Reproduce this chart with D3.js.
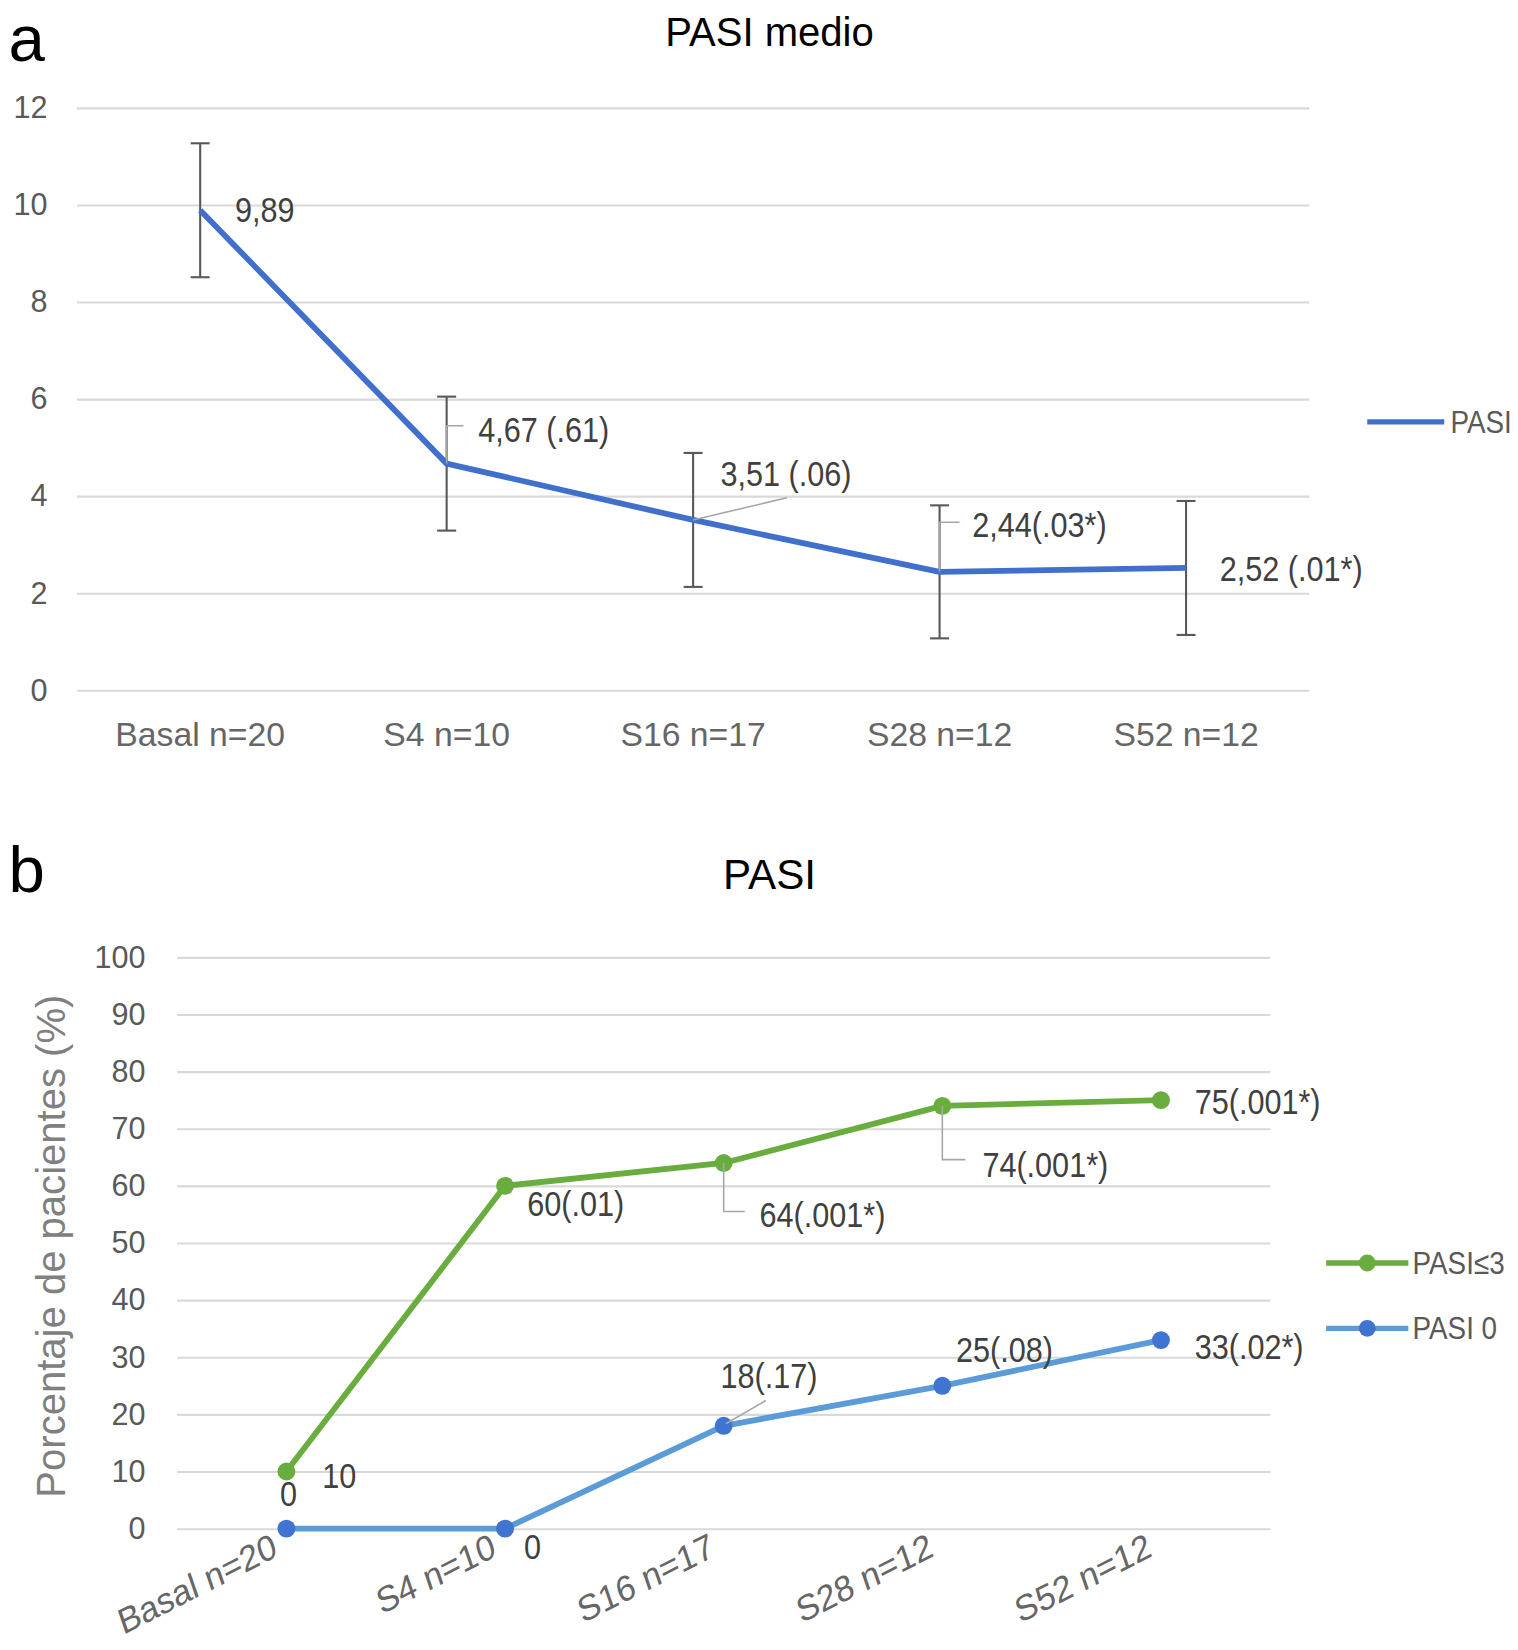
<!DOCTYPE html>
<html>
<head>
<meta charset="utf-8">
<script src="https://cdn.jsdelivr.net/npm/d3@7"></script>
<style>
  body { margin: 0; background: #fff; }
</style>
</head>
<body>
<div id="chart"></div>
<script>
// categories shared by both panels
const categories = ['Basal n=20', 'S4 n=10', 'S16 n=17', 'S28 n=12', 'S52 n=12']

// panel a: mean PASI with error bars
const pasiMedio = [9.89, 4.67, 3.51, 2.44, 2.52]
const pasiError = [1.38, 1.38, 1.38, 1.37, 1.38]
const pasiMedioLabels = ['9,89', '4,67 (.61)', '3,51 (.06)', '2,44(.03*)', '2,52 (.01*)']
const ticksA = [0, 2, 4, 6, 8, 10, 12]

// panel b: % of patients
const pasi3 = [10, 60, 64, 74, 75]
const pasi0 = [0, 0, 18, 25, 33]
const pasi3Labels = ['10', '60(.01)', '64(.001*)', '74(.001*)', '75(.001*)']
const pasi0Labels = ['0', '0', '18(.17)', '25(.08)', '33(.02*)']
const ticksB = [0, 10, 20, 30, 40, 50, 60, 70, 80, 90, 100]

const width = 1440
const height = 1565
const font = 'Liberation Sans, Arial, sans-serif'

const svg = d3.select('#chart').append('svg')
  .attr('width', 1518)
  .attr('height', 1650)
  .attr('viewBox', '0 0 ' + width + ' ' + height)

const gridColor = '#d9d9d9'
const tickColor = '#595959'
const labelColor = '#404040'
const leaderColor = '#a6a6a6'

// condensed-looking text (no narrow font available offline)
function narrowText(parent, x, y, str, size, fill) {
  parent.append('g')
    .attr('transform', 'translate(' + x + ',' + y + ') scale(0.88,1)')
    .append('text')
    .attr('dy', '0.35em')
    .attr('font-family', font)
    .attr('font-size', size)
    .attr('fill', fill)
    .text(str)
}

function cx(scale, d) {
  return scale(d) + scale.bandwidth() / 2
}

// ---------- panel a ----------
svg.append('text').attr('x', 8).attr('y', 58)
  .attr('font-family', font).attr('font-size', 62).text('a')
svg.append('text').attr('x', 730).attr('y', 44).attr('text-anchor', 'middle')
  .attr('font-family', font).attr('font-size', 38).text('PASI medio')

const xA = d3.scaleBand().domain(categories).range([73, 1242])
const yA = d3.scaleLinear().domain([0, 12]).range([654.7, 102.2])

const gA = svg.append('g')

const yAxisA = d3.axisLeft(yA).tickValues(ticksA).tickSize(-(1242 - 73)).tickPadding(28)
gA.append('g').attr('transform', 'translate(73,0)').call(yAxisA)
  .call(function(g) {
    g.select('.domain').remove()
    g.selectAll('line').attr('stroke', gridColor).attr('stroke-width', 2)
    g.selectAll('text').attr('font-family', font).attr('font-size', 29).attr('fill', tickColor)
  })

const xAxisA = d3.axisBottom(xA).tickSize(0).tickPadding(30)
gA.append('g').attr('transform', 'translate(0,654.7)').call(xAxisA)
  .call(function(g) {
    g.select('.domain').remove()
    g.selectAll('text').attr('font-family', font)
      .attr('font-size', 32).attr('fill', '#666')
  })

// error bars
const errG = gA.append('g').attr('stroke', tickColor).attr('stroke-width', 2)
pasiMedio.forEach(function(v, i) {
  const x = cx(xA, categories[i])
  const top = yA(v + pasiError[i])
  const bot = yA(v - pasiError[i])
  errG.append('line').attr('x1', x).attr('x2', x).attr('y1', top).attr('y2', bot)
  errG.append('line').attr('x1', x - 9).attr('x2', x + 9).attr('y1', top).attr('y2', top)
  errG.append('line').attr('x1', x - 9).attr('x2', x + 9).attr('y1', bot).attr('y2', bot)
})

const lineA = d3.line()
  .x(function(d, i) { return cx(xA, categories[i]) })
  .y(function(d) { return yA(d) })

gA.append('path').datum(pasiMedio)
  .attr('d', lineA).attr('fill', 'none')
  .attr('stroke', '#4070cc').attr('stroke-width', 5.5).attr('stroke-linejoin', 'round')

// leader lines and labels (offsets from each point)
const offsetsA = [[33, 0], [30, -32], [26, -44], [31, -45], [32, 1]]
const leadersA = [
  null,
  [[0, 0], [0, -36], [16, -36]],
  [[0, 0], [89, -21]],
  [[0, 0], [0, -47], [19, -47]],
  null
]
pasiMedio.forEach(function(v, i) {
  const x = cx(xA, categories[i])
  const y = yA(v)
  if (leadersA[i]) {
    gA.append('polyline')
      .attr('points', leadersA[i].map(function(p) { return (x + p[0]) + ',' + (y + p[1]) }).join(' '))
      .attr('fill', 'none').attr('stroke', leaderColor).attr('stroke-width', 1.5)
  }
  narrowText(gA, x + offsetsA[i][0], y + offsetsA[i][1], pasiMedioLabels[i], 33, labelColor)
})

// legend a
gA.append('line').attr('x1', 1297).attr('x2', 1370).attr('y1', 400).attr('y2', 400)
  .attr('stroke', '#4070cc').attr('stroke-width', 5)
narrowText(gA, 1376, 400, 'PASI', 30, tickColor)

// ---------- panel b ----------
svg.append('text').attr('x', 8).attr('y', 846)
  .attr('font-family', font).attr('font-size', 62).text('b')
svg.append('text').attr('x', 730).attr('y', 843).attr('text-anchor', 'middle')
  .attr('font-family', font).attr('font-size', 40).text('PASI')

const xB = d3.scaleBand().domain(categories).range([168, 1205])
const yB = d3.scaleLinear().domain([0, 100]).range([1450, 908])

const gB = svg.append('g')

const yAxisB = d3.axisLeft(yB).tickValues(ticksB).tickSize(-(1205 - 168)).tickPadding(30)
gB.append('g').attr('transform', 'translate(168,0)').call(yAxisB)
  .call(function(g) {
    g.select('.domain').remove()
    g.selectAll('line').attr('stroke', gridColor).attr('stroke-width', 2)
    g.selectAll('text').attr('font-family', font).attr('font-size', 29).attr('fill', tickColor)
  })

const xAxisB = d3.axisBottom(xB).tickSize(0)
gB.append('g').attr('transform', 'translate(0,1450)').call(xAxisB)
  .call(function(g) {
    g.select('.domain').remove()
    g.selectAll('text')
      .attr('font-family', font).attr('font-size', 33)
      .attr('fill', '#666').attr('text-anchor', 'end')
      .attr('x', -4).attr('y', 24).attr('dy', null)
      .attr('transform', 'rotate(-27 -4 24) skewX(-8)')
  })

svg.append('text')
  .attr('transform', 'translate(62,1182) rotate(-90)')
  .attr('text-anchor', 'middle')
  .attr('font-family', font).attr('font-size', 38)
  .attr('fill', '#808080')
  .text('Porcentaje de pacientes (%)')

const lineB = d3.line()
  .x(function(d, i) { return cx(xB, categories[i]) })
  .y(function(d) { return yB(d) })

const green = '#6aad3f'
const blueLine = '#5a9bd8'
const blueDot = '#3f74d0'

gB.append('path').datum(pasi0).attr('d', lineB).attr('fill', 'none')
  .attr('stroke', blueLine).attr('stroke-width', 5.5).attr('stroke-linejoin', 'round')
gB.append('path').datum(pasi3).attr('d', lineB).attr('fill', 'none')
  .attr('stroke', green).attr('stroke-width', 5.5).attr('stroke-linejoin', 'round')

gB.selectAll('circle.p0').data(pasi0).enter().append('circle')
  .attr('class', 'p0')
  .attr('cx', function(d, i) { return cx(xB, categories[i]) })
  .attr('cy', function(d) { return yB(d) })
  .attr('r', 8.5).attr('fill', blueDot)
gB.selectAll('circle.p3').data(pasi3).enter().append('circle')
  .attr('class', 'p3')
  .attr('cx', function(d, i) { return cx(xB, categories[i]) })
  .attr('cy', function(d) { return yB(d) })
  .attr('r', 8.5).attr('fill', green)

const offsets3 = [[34, 4], [21, 17], [34, 49], [38, 56], [32, 2]]
const leaders3 = [null, null, [[0, 0], [0, 46], [20, 46]], [[0, 0], [0, 51], [22, 51]], null]
const offsets0 = [[-6, -33], [18, 17], [-3, -47], [13, -34], [32, 6]]
const leaders0 = [null, null, [[2, -2], [40, -24]], null, null]

function drawLabels(values, labels, offsets, leaders) {
  values.forEach(function(v, i) {
    const x = cx(xB, categories[i])
    const y = yB(v)
    if (leaders[i]) {
      gB.append('polyline')
        .attr('points', leaders[i].map(function(p) { return (x + p[0]) + ',' + (y + p[1]) }).join(' '))
        .attr('fill', 'none').attr('stroke', leaderColor).attr('stroke-width', 1.5)
    }
    narrowText(gB, x + offsets[i][0], y + offsets[i][1], labels[i], 33, labelColor)
  })
}
drawLabels(pasi3, pasi3Labels, offsets3, leaders3)
drawLabels(pasi0, pasi0Labels, offsets0, leaders0)

// legend b
const legendB = [
  { name: 'PASI\u22643', line: green, dot: green, y: 1198 },
  { name: 'PASI 0', line: blueLine, dot: blueDot, y: 1260 }
]
legendB.forEach(function(l) {
  gB.append('line').attr('x1', 1258).attr('x2', 1336).attr('y1', l.y).attr('y2', l.y)
    .attr('stroke', l.line).attr('stroke-width', 5)
  gB.append('circle').attr('cx', 1297).attr('cy', l.y).attr('r', 8).attr('fill', l.dot)
  narrowText(gB, 1340, l.y, l.name, 30, tickColor)
})
</script>
</body>
</html>
